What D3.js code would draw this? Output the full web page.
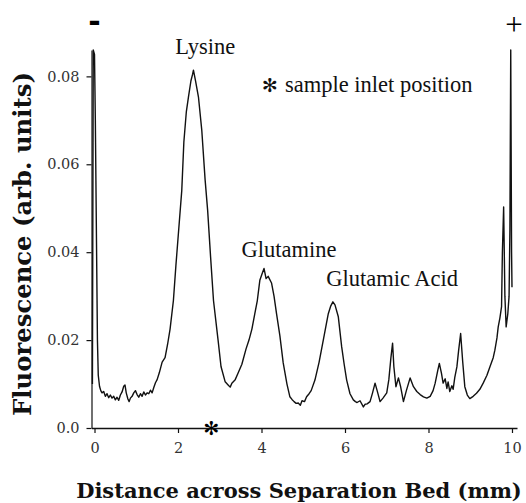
<!DOCTYPE html>
<html>
<head>
<meta charset="utf-8">
<script src="https://cdn.jsdelivr.net/npm/d3@7"></script>
<style>
  body { margin: 0; background: #fff; }
  svg { display: block; }
  .tick text { font-family: "DejaVu Serif", serif; font-size: 14.5px; fill: #333; }
  .axis path, .axis line { stroke: #111; }
  .title { font-family: "DejaVu Serif", serif; font-weight: bold; font-size: 21px; fill: #111; }
  .note { font-family: "Liberation Serif", "Times New Roman", serif; font-size: 22.5px; fill: #111; }
</style>
</head>
<body>
<div id="chart"></div>
<script>
// distance across bed (mm) and fluorescence (arb. units)
const positionMm = [
  -0.05, -0.03, 0.00, 0.02, 0.05, 0.07, 0.09, 0.12, 0.15, 0.18,
  0.22, 0.26, 0.30, 0.34, 0.38, 0.42, 0.46, 0.50, 0.54, 0.58,
  0.62, 0.66, 0.70, 0.73, 0.76, 0.80, 0.83, 0.86, 0.90, 0.94,
  0.98, 1.02, 1.06, 1.10, 1.14, 1.18, 1.22, 1.26, 1.30, 1.34,
  1.38, 1.42, 1.46, 1.50, 1.55, 1.62, 1.69, 1.75, 1.81, 1.89,
  1.95, 2.01, 2.09, 2.14, 2.20, 2.25, 2.31, 2.35, 2.37, 2.42,
  2.49, 2.57, 2.65, 2.71, 2.78, 2.85, 2.96, 3.03, 3.13, 3.20,
  3.25, 3.29, 3.37, 3.44, 3.53, 3.63, 3.70, 3.77, 3.84, 3.90,
  3.96, 4.01, 4.06, 4.11, 4.16, 4.24, 4.30, 4.36, 4.44, 4.52,
  4.61, 4.68, 4.73, 4.78, 4.83, 4.88, 4.93, 4.97, 5.03, 5.08,
  5.14, 5.19, 5.28, 5.38, 5.48, 5.55, 5.60, 5.66, 5.71, 5.76,
  5.84, 5.92, 5.98, 6.04, 6.12, 6.20, 6.25, 6.29, 6.36, 6.44,
  6.48, 6.53, 6.60, 6.66, 6.72, 6.77, 6.84, 6.91, 7.00, 7.05,
  7.10, 7.14, 7.17, 7.22, 7.28, 7.33, 7.40, 7.47, 7.56, 7.64,
  7.72, 7.80, 7.88, 7.96, 8.04, 8.11, 8.16, 8.22, 8.26, 8.31,
  8.35, 8.40, 8.44, 8.47, 8.51, 8.56, 8.59, 8.63, 8.68, 8.72,
  8.77, 8.82, 8.87, 8.93, 8.99, 9.07, 9.15, 9.23, 9.31, 9.40,
  9.47, 9.55, 9.59, 9.64, 9.67, 9.71, 9.75, 9.77, 9.80, 9.83,
  9.86, 9.90, 9.93, 9.95, 9.97, 9.99, 10.00
];
const fluorescence = [
  0.0100, 0.0860, 0.0850, 0.0700, 0.0400, 0.0200, 0.0120, 0.0095, 0.0085, 0.0080,
  0.0083, 0.0072, 0.0078, 0.0069, 0.0075, 0.0068, 0.0072, 0.0064, 0.0070, 0.0063,
  0.0075, 0.0082, 0.0095, 0.0098, 0.0080, 0.0066, 0.0060, 0.0068, 0.0072, 0.0080,
  0.0085, 0.0076, 0.0070, 0.0078, 0.0072, 0.0082, 0.0075, 0.0080, 0.0078, 0.0086,
  0.0080, 0.0092, 0.0103, 0.0110, 0.0125, 0.0150, 0.0160, 0.0190, 0.0225, 0.0290,
  0.0370, 0.0443, 0.0540, 0.0650, 0.0720, 0.0753, 0.0790, 0.0805, 0.0814, 0.0790,
  0.0753, 0.0677, 0.0564, 0.0495, 0.0390, 0.0290, 0.0200, 0.0140, 0.0105, 0.0098,
  0.0093, 0.0102, 0.0110, 0.0125, 0.0145, 0.0180, 0.0200, 0.0225, 0.0260, 0.0290,
  0.0336, 0.0350, 0.0363, 0.0340, 0.0345, 0.0330, 0.0300, 0.0260, 0.0210, 0.0148,
  0.0100, 0.0071, 0.0065, 0.0060, 0.0056, 0.0057, 0.0052, 0.0062, 0.0060, 0.0071,
  0.0078, 0.0085, 0.0109, 0.0150, 0.0200, 0.0235, 0.0260, 0.0278, 0.0287, 0.0280,
  0.0253, 0.0185, 0.0145, 0.0109, 0.0078, 0.0064, 0.0060, 0.0058, 0.0062, 0.0048,
  0.0054, 0.0055, 0.0060, 0.0080, 0.0102, 0.0085, 0.0060, 0.0068, 0.0080, 0.0110,
  0.0160, 0.0193, 0.0140, 0.0094, 0.0114, 0.0095, 0.0060, 0.0085, 0.0114, 0.0094,
  0.0083, 0.0076, 0.0071, 0.0068, 0.0072, 0.0085, 0.0102, 0.0130, 0.0147, 0.0125,
  0.0102, 0.0112, 0.0090, 0.0105, 0.0083, 0.0096, 0.0088, 0.0115, 0.0139, 0.0175,
  0.0215, 0.0150, 0.0094, 0.0075, 0.0067, 0.0072, 0.0079, 0.0088, 0.0102, 0.0120,
  0.0139, 0.0160, 0.0177, 0.0205, 0.0230, 0.0250, 0.0276, 0.0400, 0.0503, 0.0300,
  0.0230, 0.0260, 0.0300, 0.0450, 0.0860, 0.0400, 0.0320
];

const xTicks = [0, 2, 4, 6, 8, 10];
const yTicks = [0, 0.02, 0.04, 0.06, 0.08];
const yTickLabels = ["0.0", "0.02", "0.04", "0.06", "0.08"];

const peakNames = ["Lysine", "Glutamine", "Glutamic Acid"];
const peakLabelAt = [[2.65, 0.0852], [3.52, 0.0390], [5.55, 0.0322]];
const inletPosition = 2.8;

const width = 526, height = 503;
const margin = { top: 50, right: 9, bottom: 75, left: 91.5 };

const svg = d3.select('#chart')
    .append('svg')
    .attr('width', width)
    .attr('height', height);

const x = d3.scaleLinear()
    .domain([-0.072, 10.12])
    .range([margin.left, width - margin.right]);

const y = d3.scaleLinear()
    .domain([0, 0.086])
    .range([height - margin.bottom, margin.top]);

// axes
svg.append('g')
    .attr('class', 'axis')
    .attr('transform', 'translate(0,' + y(0) + ')')
    .call(d3.axisBottom(x).tickValues(xTicks).tickSize(5).tickSizeOuter(0).tickPadding(10))
    .call(g => g.select('.domain').attr('stroke-width', 1.6));

svg.append('g')
    .attr('class', 'axis')
    .attr('transform', 'translate(' + x.range()[0] + ',0)')
    .call(d3.axisLeft(y).tickValues(yTicks).tickSize(5).tickSizeOuter(0).tickPadding(7)
        .tickFormat((d, i) => yTickLabels[i]))
    .call(g => g.select('.domain').attr('stroke-width', 1.2));

svg.selectAll('.tick line').attr('stroke-width', 1.2);

// trace
const trace = positionMm.map((p, i) => [p, fluorescence[i]]);
svg.append('path')
    .datum(trace)
    .attr('fill', 'none')
    .attr('stroke', '#111')
    .attr('stroke-width', 1.4)
    .attr('stroke-linejoin', 'round')
    .attr('d', d3.line().x(d => x(d[0])).y(d => y(d[1])));

// peak labels
svg.selectAll('.peak')
    .data(peakNames)
    .enter()
    .append('text')
    .attr('class', 'note')
    .attr('x', (d, i) => x(peakLabelAt[i][0]))
    .attr('y', (d, i) => y(peakLabelAt[i][1]))
    .style('text-anchor', (d, i) => i === 0 ? 'middle' : 'start')
    .text(d => d);

// sample inlet note
const note = svg.append('text')
    .attr('class', 'note')
    .attr('x', 262)
    .attr('y', 92);
note.append('tspan').style('font-family', '"DejaVu Sans", sans-serif').style('font-size', '19px').text('✻');
note.append('tspan').attr('dx', 7).text('sample inlet position');

svg.append('text')
    .attr('x', x(inletPosition))
    .attr('y', y(0))
    .attr('dy', '0.35em')
    .style('font-family', '"DejaVu Sans", sans-serif')
    .style('font-size', '19px')
    .style('text-anchor', 'middle')
    .text('✻');

// electrode signs
svg.append('text')
    .attr('x', x(0))
    .attr('y', 32)
    .style('font-family', '"DejaVu Sans", sans-serif')
    .style('font-weight', 'bold')
    .style('font-size', '30px')
    .style('text-anchor', 'middle')
    .text('-');

svg.append('text')
    .attr('x', 514)
    .attr('y', 35)
    .style('font-family', '"Liberation Serif", serif')
    .style('font-size', '31px')
    .style('text-anchor', 'middle')
    .text('+');

// axis titles, sized to the span they take in the original figure
function fitTitle(sel, span) {
    const len = sel.node().getComputedTextLength();
    const size = parseFloat(getComputedStyle(sel.node()).fontSize);
    sel.style('font-size', (size * span / len) + 'px');
}

const xTitle = svg.append('text')
    .attr('class', 'title')
    .attr('x', 299)
    .attr('y', 498)
    .style('text-anchor', 'middle')
    .text('Distance across Separation Bed (mm)');
fitTitle(xTitle, 446);

const yTitle = svg.append('text')
    .attr('class', 'title')
    .attr('transform', 'translate(31,244) rotate(-90)')
    .style('text-anchor', 'middle')
    .text('Fluorescence (arb. units)');
fitTitle(yTitle, 344);
</script>
</body>
</html>
